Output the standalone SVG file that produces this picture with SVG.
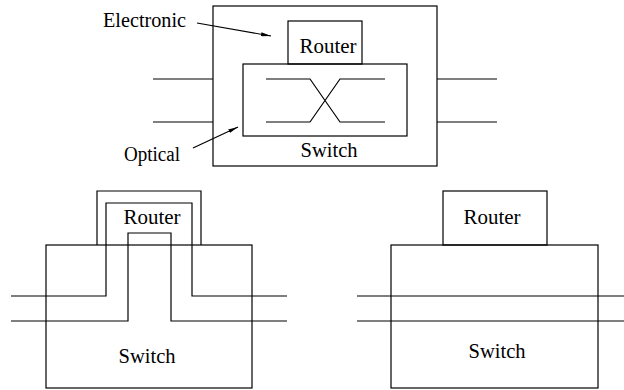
<svg xmlns="http://www.w3.org/2000/svg" width="624" height="390" viewBox="0 0 624 390">
<defs>
<marker id="ah" viewBox="0 0 10 4" refX="10" refY="2" markerWidth="10" markerHeight="4" markerUnits="userSpaceOnUse" orient="auto">
<path d="M0,0 L10,2 L0,4 Z" fill="#000"/>
</marker>
</defs>
<style>
.b{fill:none;stroke:#000;stroke-width:1.2}
text{font-family:'Liberation Serif','Times New Roman',serif;fill:#000}
.t{font-size:21px}
.s{font-size:20px}
.m{text-anchor:middle}
</style>
<rect width="624" height="390" fill="#fff"/>
<g id="top-node">
<rect class="b" x="213" y="6" width="224" height="160"/>
<g id="top-router">
<rect class="b" x="288" y="21" width="74" height="43"/>
<text class="t m" x="328" y="53" textLength="57" lengthAdjust="spacingAndGlyphs">Router</text>
</g>
<g id="top-switch">
<rect class="b" x="243" y="64" width="164" height="72"/>
<text class="t m" x="329" y="157" textLength="57" lengthAdjust="spacingAndGlyphs">Switch</text>
<path class="b" d="M266,79 H310 L340,122 H385 M266,122 H310 L340,79 H385"/>
</g>
</g>
<g id="labels">
<text class="s" x="103" y="27" textLength="83" lengthAdjust="spacingAndGlyphs">Electronic</text>
<text class="s" x="124" y="161" textLength="56" lengthAdjust="spacingAndGlyphs">Optical</text>
</g>
<g id="bl-node">
<rect class="b" x="46" y="245" width="206" height="143"/>
<path class="b" d="M97,245 V191 H201 V245"/>
<text class="t m" x="152" y="224" textLength="57" lengthAdjust="spacingAndGlyphs">Router</text>
<text class="t m" x="147" y="363" textLength="57" lengthAdjust="spacingAndGlyphs">Switch</text>
</g>
<g id="br-node">
<rect class="b" x="391" y="245" width="207" height="143"/>
<rect class="b" x="443" y="191" width="104" height="54"/>
<text class="t m" x="492" y="224" textLength="57" lengthAdjust="spacingAndGlyphs">Router</text>
<text class="t m" x="497" y="358" textLength="57" lengthAdjust="spacingAndGlyphs">Switch</text>
</g>
<g id="connectors">
<path class="b" d="M153,79 H213 M153,122 H213 M437,79 H497 M437,122 H497"/>
<path class="b" d="M11,296 H106 V203 H192 V296 H287"/>
<path class="b" d="M11,321 H128 V233 H171 V321 H287"/>
<path class="b" d="M357,296 H624 M357,321 H624"/>
<line class="b" x1="197" y1="23" x2="271" y2="36" marker-end="url(#ah)"/>
<line class="b" x1="193" y1="148" x2="238" y2="127" marker-end="url(#ah)"/>
</g>
</svg>
